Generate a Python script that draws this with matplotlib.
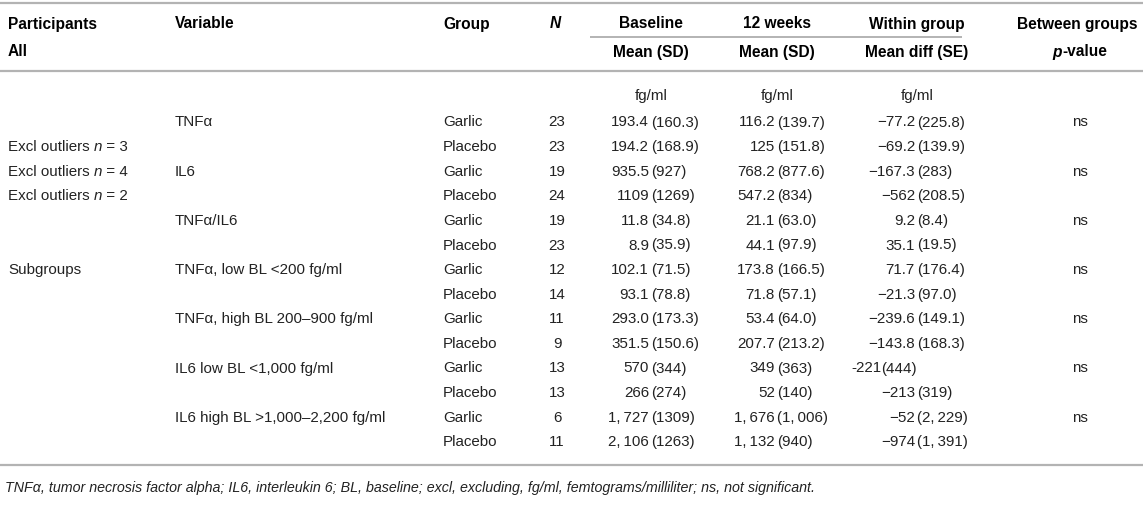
import matplotlib
matplotlib.use("Agg")
import matplotlib.pyplot as plt

# ---------------- data ----------------
header1 = ["Participants", "Variable", "Group", "N", "Baseline", "12 weeks", "Within group", "Between groups"]
header2_all = "All"
header2 = ["Mean (SD)", "Mean (SD)", "Mean diff (SE)"]
unit_row = ["fg/ml", "fg/ml", "fg/ml"]

participants = ["", "Excl outliers |n| = 3", "Excl outliers |n| = 4", "Excl outliers |n| = 2",
                "", "", "Subgroups", "", "", "", "", "", "", ""]
variables = ["TNFα", "", "IL6", "", "TNFα/IL6", "", "TNFα, low BL <200 fg/ml", "",
             "TNFα, high BL 200–900 fg/ml", "", "IL6 low BL <1,000 fg/ml", "",
             "IL6 high BL >1,000–2,200 fg/ml", ""]
groups = ["Garlic", "Placebo"] * 7
n_values = [23, 23, 19, 24, 19, 23, 12, 14, 11, 9, 13, 13, 6, 11]
baseline = ["193.4 (160.3)", "194.2 (168.9)", "935.5 (927)", "1109 (1269)", "11.8 (34.8)",
            "8.9 (35.9)", "102.1 (71.5)", "93.1 (78.8)", "293.0 (173.3)", "351.5 (150.6)",
            "570 (344)", "266 (274)", "1,\u2009727 (1309)", "2,\u2009106 (1263)"]
week12 = ["116.2 (139.7)", "125 (151.8)", "768.2 (877.6)", "547.2 (834)", "21.1 (63.0)",
          "44.1 (97.9)", "173.8 (166.5)", "71.8 (57.1)", "53.4 (64.0)", "207.7 (213.2)",
          "349 (363)", "52 (140)", "1,\u2009676 (1,\u2009006)", "1,\u2009132 (940)"]
within = ["−77.2 (225.8)", "−69.2 (139.9)", "−167.3 (283)", "−562 (208.5)", "9.2 (8.4)",
          "35.1 (19.5)", "71.7 (176.4)", "−21.3 (97.0)", "−239.6 (149.1)", "−143.8 (168.3)",
          "-221(444)", "−213 (319)", "−52 (2,\u2009229)", "−974 (1,\u2009391)"]
between = ["ns", "", "ns", "", "ns", "", "ns", "", "ns", "", "ns", "", "ns", ""]
footnote = ("TNFα, tumor necrosis factor alpha; IL6, interleukin 6; BL, baseline; excl, excluding, "
            "fg/ml, femtograms/milliliter; ns, not significant.")

# ---------------- layout ----------------
W, H = 1143, 512
FAM = ["Liberation Sans", "DejaVu Sans"]
plt.rcParams["font.family"] = FAM
BODY = 10.9
HEAD = 11.2
FOOT = 10.3
TXT = "#222222"
LINE = "#b3b3b3"

fig = plt.figure(figsize=(W / 100, H / 100), dpi=100)
ax = fig.add_axes([0, 0, 1, 1])
ax.set_xlim(0, W)
ax.set_ylim(H, 0)
ax.axis("off")

renderer = fig.canvas.get_renderer()


def width_of(s, **kw):
    t = ax.text(0, 0, s + "|", **kw)
    t2 = ax.text(0, 0, "|", **kw)
    w = t.get_window_extent(renderer).width - t2.get_window_extent(renderer).width
    t.remove()
    t2.remove()
    return w


def runs_text(x, y, s, size, color=TXT, weight="normal", ha="left", va="center"):
    # '|'-delimited segments alternate normal / italic
    parts = s.split("|")
    kws = []
    for i, p in enumerate(parts):
        kws.append(dict(fontsize=size, fontweight=weight, fontstyle="italic" if i % 2 else "normal"))
    widths = [width_of(p, **k) for p, k in zip(parts, kws)]
    total = sum(widths)
    if ha == "center":
        x0 = x - total / 2
    elif ha == "right":
        x0 = x - total
    else:
        x0 = x
    for p, k, w in zip(parts, kws, widths):
        if p:
            ax.text(x0, y, p, ha="left", va=va, color=color, **k)
        x0 += w


# horizontal rules
for yl in (3, 71, 465):
    ax.plot([0, W], [yl, yl], color=LINE, lw=1.6, solid_capstyle="butt")
ax.plot([590, 962], [37, 37], color=LINE, lw=1.4, solid_capstyle="butt")

X_PART, X_VAR, X_GROUP, X_N = 8, 175, 443, 557
PAREN = [651, 777, 917]
X_BETWEEN_H, X_BETWEEN = 1077, 1080

# headers
y_h1, y_h2 = 24, 52
hk = dict(fontsize=HEAD, fontweight="bold", color="black", va="center")
ax.text(X_PART, y_h1, header1[0], **hk)
ax.text(X_VAR, y_h1, header1[1], **hk)
ax.text(X_GROUP, y_h1, header1[2], **hk)
ax.text(X_N - 2, y_h1, header1[3], fontstyle="italic", ha="center", **hk)
for xc, h in zip(PAREN, header1[4:7]):
    ax.text(xc, y_h1, h, ha="center", **hk)
ax.text(X_BETWEEN_H, y_h1, header1[7], ha="center", **hk)

ax.text(X_PART, y_h2, header2_all, **hk)
for xc, h in zip(PAREN, header2):
    ax.text(xc, y_h2, h, ha="center", **hk)
runs_text(X_BETWEEN_H + 3, y_h2, "|p|-value", HEAD, color="black", weight="bold", ha="center")

# unit row
y_unit = 96
for xc, u in zip(PAREN, unit_row):
    ax.text(xc, y_unit, u, fontsize=BODY, color=TXT, va="center", ha="center")

# body rows
y0, dy = 122.5, 24.6
for i in range(len(groups)):
    y = y0 + i * dy
    if participants[i]:
        runs_text(X_PART, y, participants[i], BODY)
    if variables[i]:
        ax.text(X_VAR, y, variables[i], fontsize=BODY, color=TXT, va="center")
    ax.text(X_GROUP, y, groups[i], fontsize=BODY, color=TXT, va="center")
    ax.text(X_N, y, str(n_values[i]), fontsize=BODY, color=TXT, va="center", ha="center")
    for col, xp in zip((baseline, week12, within), PAREN):
        s = col[i]
        k = s.index("(")
        left, right = s[:k].rstrip(), s[k:]
        if s[k - 1] != " ":
            xp = xp - 36  # cell typeset without the aligned gap
            gap = 0
        else:
            gap = 2
        ax.text(xp - gap, y, left, fontsize=BODY, color=TXT, va="center", ha="right")
        ax.text(xp, y, right, fontsize=BODY, color=TXT, va="center", ha="left")
    if between[i]:
        ax.text(X_BETWEEN, y, between[i], fontsize=BODY, color=TXT, va="center", ha="center")

# footnote
ax.text(X_PART - 3, 488, footnote, fontsize=FOOT, fontstyle="italic", color=TXT, va="center")

fig.savefig("out.png", dpi=100)
